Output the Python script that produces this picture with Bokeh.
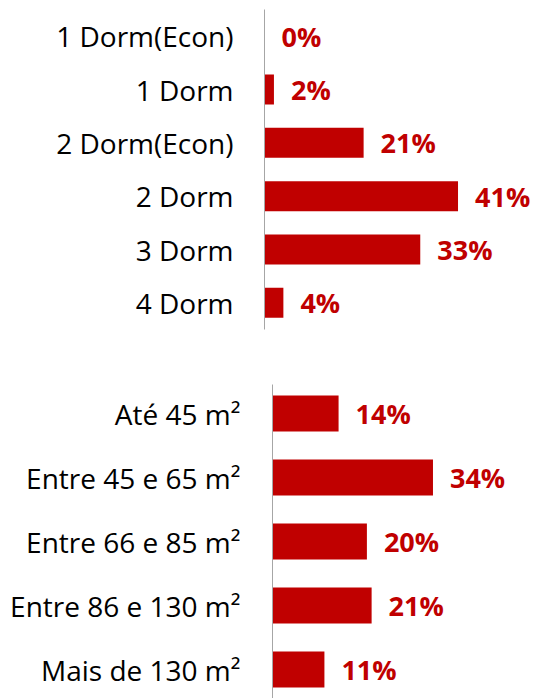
from bokeh.plotting import figure
from bokeh.models import ColumnDataSource, FactorRange, Range1d
from bokeh.layouts import column
from bokeh.embed import file_html
from bokeh.resources import INLINE
from bokeh.core.properties import value

dorm_categories = ["1 Dorm(Econ)", "1 Dorm", "2 Dorm(Econ)", "2 Dorm", "3 Dorm", "4 Dorm"]
dorm_values = [0, 2, 21, 41, 33, 4]

area_categories = ["Até 45 m²", "Entre 45 e 65 m²", "Entre 66 e 85 m²",
                   "Entre 86 e 130 m²", "Mais de 130 m²"]
area_values = [14, 34, 20, 21, 11]

RED = "#C00000"
PX_PER_PCT = 4.72
FONT = "Open Sans"


def make(cats, vals, width, height, border_left, border_top, border_bottom, standoff, pad):
    labels = [f"{v}%" for v in vals]
    src = ColumnDataSource(dict(cat=cats, val=vals, label=labels))
    frame_w = width - border_left
    yr = FactorRange(factors=list(reversed(cats)), range_padding=pad,
                     range_padding_units="percent")
    p = figure(width=width, height=height, y_range=yr,
               x_range=Range1d(0, frame_w / PX_PER_PCT),
               output_backend="svg", toolbar_location=None,
               min_border_left=border_left, min_border_right=0,
               min_border_top=border_top, min_border_bottom=border_bottom)
    p.frame_align = False
    p.hbar(y="cat", left=0, right="val", height=0.5625, source=src,
           fill_color=RED, line_color=None)
    p.text(x="val", y="cat", text="label", source=src, x_offset=17,
           text_align="left", text_baseline="middle",
           text_font=value(FONT), text_font_style="bold",
           text_font_size="27px", text_color=RED)
    p.xaxis.visible = False
    p.xgrid.visible = False
    p.ygrid.visible = False
    p.outline_line_color = None
    ax = p.yaxis[0]
    ax.axis_line_color = "#A6A6A6"
    ax.axis_line_width = 1
    ax.major_tick_line_color = None
    ax.minor_tick_line_color = None
    ax.major_tick_out = 0
    ax.major_tick_in = 0
    ax.major_label_standoff = standoff
    ax.major_label_text_font = FONT
    ax.major_label_text_font_size = "28px"
    ax.major_label_text_color = "#000000"
    return p


p1 = make(dorm_categories, dorm_values, 533, 355, 264, 9, 26, 31, 0.0)
p2 = make(area_categories, area_values, 533, 343, 272, 29, 0, 32, -0.01875)

p = column(p1, p2)
open("out.html", "w").write(file_html(p, INLINE))
